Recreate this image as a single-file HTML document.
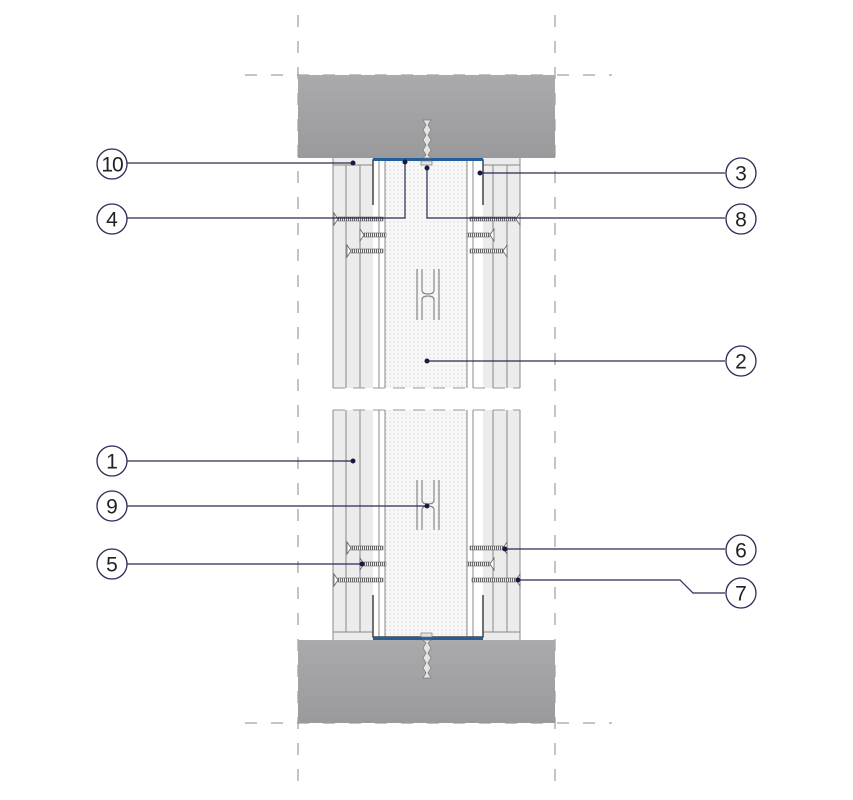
<!DOCTYPE html>
<html><head><meta charset="utf-8"><style>html,body{margin:0;padding:0;background:#fff}svg{display:block}</style></head>
<body>
<svg width="853" height="800" viewBox="0 0 853 800" xmlns="http://www.w3.org/2000/svg" font-family="Liberation Sans, sans-serif">
<defs>
<linearGradient id="slab" x1="0" y1="0" x2="0" y2="1"><stop offset="0" stop-color="#aaaaac"/><stop offset="1" stop-color="#9a9a9c"/></linearGradient>
<pattern id="dots" width="4" height="4" patternUnits="userSpaceOnUse"><rect width="4" height="4" fill="#f7f7f7"/><circle cx="2" cy="2" r="0.6" fill="#cfcfcf"/></pattern>
<pattern id="thr" width="2" height="4" patternUnits="userSpaceOnUse"><rect width="2" height="4" fill="#eee"/><rect width="1" height="4" fill="#666"/></pattern>
</defs>
<g stroke="#888" stroke-width="1" stroke-dasharray="12,14" fill="none">
<line x1="298" y1="15" x2="298" y2="790"/><line x1="555" y1="15" x2="555" y2="790"/>
<line x1="245" y1="75" x2="612" y2="75"/><line x1="245" y1="723" x2="612" y2="723"/>
</g>
<rect x="298" y="75" width="257" height="83" fill="url(#slab)"/>
<rect x="298" y="640" width="257" height="83" fill="url(#slab)"/>
<rect x="333" y="158" width="40" height="230" fill="#ececec"/>
<rect x="483" y="158" width="37" height="230" fill="#ececec"/>
<rect x="385" y="158" width="82" height="230" fill="url(#dots)"/>
<rect x="333" y="410" width="40" height="230" fill="#ececec"/>
<rect x="483" y="410" width="37" height="230" fill="#ececec"/>
<rect x="385" y="410" width="82" height="230" fill="url(#dots)"/>
<g stroke="#888" stroke-width="1">
<line x1="333" y1="158" x2="333" y2="388"/><line x1="346" y1="165" x2="346" y2="388"/><line x1="360" y1="165" x2="360" y2="388"/>
<line x1="333" y1="410" x2="333" y2="640"/><line x1="346" y1="410" x2="346" y2="632"/><line x1="360" y1="410" x2="360" y2="632"/>
<line x1="507" y1="165" x2="507" y2="388"/><line x1="493" y1="165" x2="493" y2="388"/><line x1="520" y1="158" x2="520" y2="388"/>
<line x1="507" y1="410" x2="507" y2="632"/><line x1="493" y1="410" x2="493" y2="632"/><line x1="520" y1="410" x2="520" y2="640"/>
<line x1="379" y1="160" x2="379" y2="388"/><line x1="385" y1="160" x2="385" y2="388"/><line x1="467" y1="160" x2="467" y2="388"/><line x1="473" y1="160" x2="473" y2="388"/>
<line x1="379" y1="410" x2="379" y2="638"/><line x1="385" y1="410" x2="385" y2="638"/><line x1="467" y1="410" x2="467" y2="638"/><line x1="473" y1="410" x2="473" y2="638"/>
<line x1="333" y1="165" x2="373" y2="165"/><line x1="483" y1="165" x2="520" y2="165"/>
<line x1="333" y1="632" x2="373" y2="632"/><line x1="483" y1="632" x2="520" y2="632"/>
</g>
<g stroke="#999" stroke-width="1" stroke-dasharray="12,8"><line x1="333" y1="388" x2="520" y2="388"/><line x1="333" y1="410" x2="520" y2="410"/></g>
<g stroke="#444" stroke-width="1.5" fill="none">
<path d="M373,205 V160 H483 V205"/><path d="M373,595 V637 H483 V595"/>
</g>
<rect x="373" y="158" width="110" height="3" fill="#1f5f9a"/>
<rect x="373" y="637" width="110" height="3" fill="#1f5f9a"/>
<g fill="#e4e4e4" stroke="#777" stroke-width="0.7">
<path d="M423,120 l3,5 -3,5 3,5 -3,5 3,5 -3,5 3,5 -3,3 h8 l-3,-3 3,-5 -3,-5 3,-5 -3,-5 3,-5 -3,-5 3,-5z"/>
<path d="M423,678 l3,-5 -3,-5 3,-5 -3,-5 3,-5 -3,-5 3,-5 -3,-3 h8 l-3,3 3,5 -3,5 3,5 -3,5 3,5 -3,5 3,5z"/>
<rect x="421" y="161" width="11" height="4"/><rect x="421" y="633" width="11" height="4"/>
</g>
<g fill="none" stroke="#888" stroke-width="1.2">
<path d="M417,269 V320 M422,269 V290 Q422,294 428,294 Q434,294 434,290 V269 M439,269 V320 M422,320 V300 Q422,296 428,296 Q434,296 434,300 V320"/>
<path d="M417,480 V530 M422,480 V500 Q422,504 428,504 Q434,504 434,500 V480 M439,480 V530 M422,530 V510 Q422,506 428,506 Q434,506 434,510 V530"/>
</g>
<g fill="url(#thr)" stroke="#666" stroke-width="0.6">
<rect x="338" y="217" width="45" height="4"/><rect x="364" y="233" width="22" height="4"/><rect x="351" y="249" width="32" height="4"/>
<rect x="470" y="217" width="46" height="4"/><rect x="467" y="233" width="23" height="4"/><rect x="470" y="249" width="33" height="4"/>
<rect x="351" y="546" width="32" height="4"/><rect x="364" y="562" width="22" height="4"/><rect x="338" y="578" width="45" height="4"/>
<rect x="470" y="546" width="33" height="4"/><rect x="467" y="562" width="23" height="4"/><rect x="472" y="578" width="44" height="4"/>
</g>
<g fill="#fff" stroke="#666" stroke-width="0.8">
<path d="M334,213 L338,219 L334,225Z"/><path d="M360,229 L364,235 L360,241Z"/><path d="M347,245 L351,251 L347,257Z"/>
<path d="M520,213 L516,219 L520,225Z"/><path d="M494,229 L490,235 L494,241Z"/><path d="M507,245 L503,251 L507,257Z"/>
<path d="M347,542 L351,548 L347,554Z"/><path d="M360,558 L364,564 L360,570Z"/><path d="M334,574 L338,580 L334,586Z"/>
<path d="M507,542 L503,548 L507,554Z"/><path d="M494,558 L490,564 L494,570Z"/><path d="M520,574 L516,580 L520,586Z"/>
</g>
<g stroke="#2a2a55" stroke-width="1.2" fill="none">
<line x1="127" y1="163" x2="353" y2="163"/>
<path d="M127,218 H405 V162"/>
<line x1="725" y1="173" x2="480" y2="173"/>
<path d="M725,218 H427 V168"/>
<line x1="725" y1="361" x2="427" y2="361"/>
<line x1="127" y1="461" x2="353" y2="461"/>
<line x1="127" y1="506" x2="427" y2="506"/>
<line x1="127" y1="564" x2="362" y2="564"/>
<line x1="725" y1="549" x2="505" y2="549"/>
<path d="M725,593 H693 L680,580 H518"/>
</g>
<g fill="#1a1a40">
<circle cx="353" cy="163" r="2.5"/><circle cx="405" cy="162" r="2.5"/><circle cx="480" cy="173" r="2.5"/><circle cx="427" cy="168" r="2.5"/>
<circle cx="427" cy="361" r="2.5"/><circle cx="353" cy="461" r="2.5"/><circle cx="427" cy="506" r="2.5"/><circle cx="362" cy="564" r="2.5"/>
<circle cx="505" cy="549" r="2.5"/><circle cx="518" cy="580" r="2.5"/>
</g>
<g fill="#fff" stroke="#2a2a55" stroke-width="1.3">
<circle cx="112" cy="164" r="15"/><circle cx="112" cy="219" r="15"/><circle cx="112" cy="461" r="15"/><circle cx="112" cy="506" r="15"/><circle cx="112" cy="564" r="15"/>
<circle cx="741" cy="173" r="15"/><circle cx="741" cy="219" r="15"/><circle cx="741" cy="361" r="15"/><circle cx="741" cy="550" r="15"/><circle cx="741" cy="593" r="15"/>
</g>
<g font-size="21" fill="#222" text-anchor="middle">
<text x="112" y="171.5" letter-spacing="-1">10</text><text x="112" y="226.5">4</text><text x="112" y="468.5">1</text><text x="112" y="513.5">9</text><text x="112" y="571.5">5</text>
<text x="741" y="180.5">3</text><text x="741" y="226.5">8</text><text x="741" y="368.5">2</text><text x="741" y="557.5">6</text><text x="741" y="600.5">7</text>
</g>
</svg>
</body></html>
